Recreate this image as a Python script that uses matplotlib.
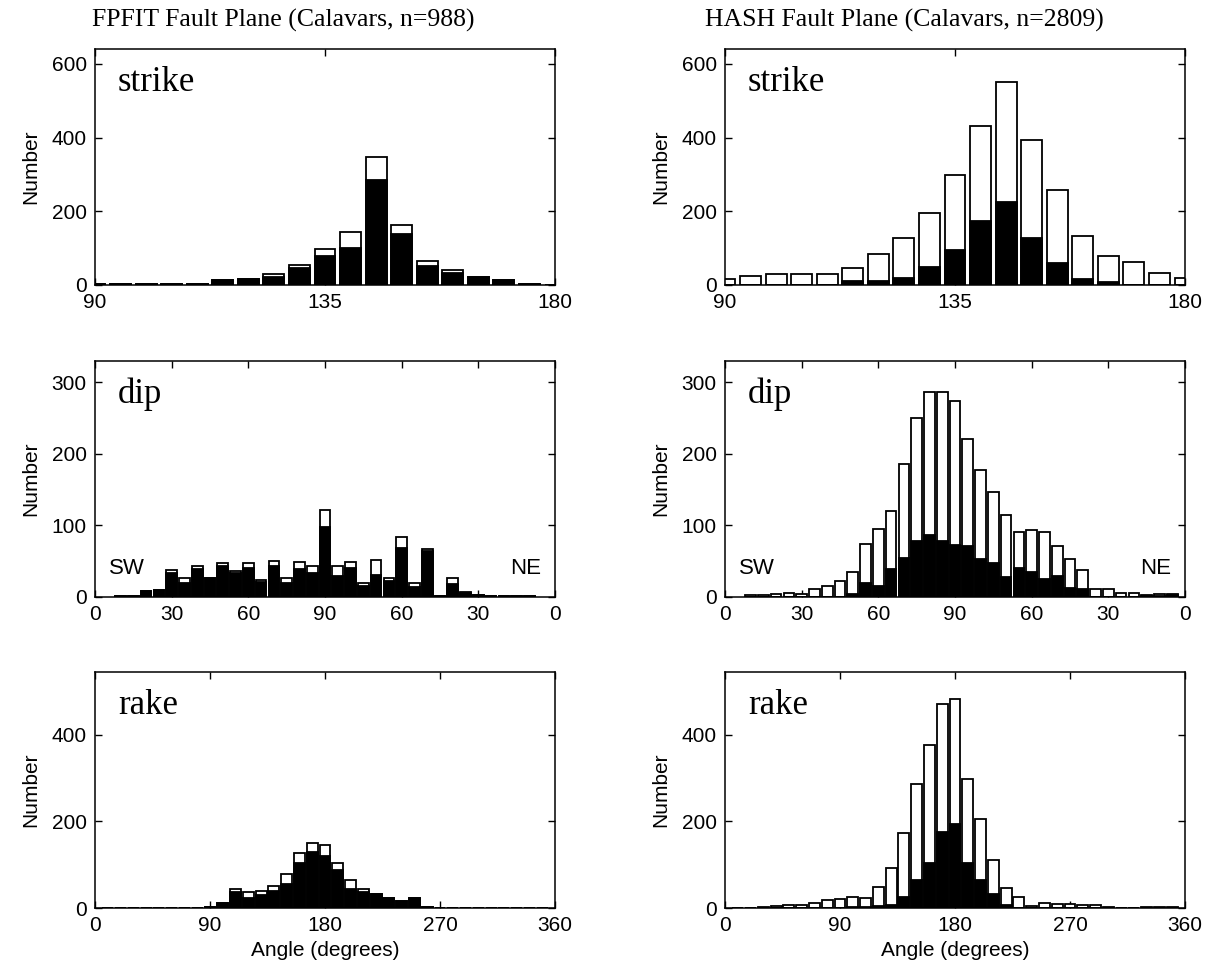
import numpy as np
import matplotlib
matplotlib.use('Agg')
import matplotlib.pyplot as plt

plt.rcParams['font.family'] = ['Liberation Sans', 'DejaVu Sans']

# strike, bins of 5 degrees
strike_centers = np.arange(90, 181, 5)
fp_strike_total = [2, 2, 3, 2, 2, 13, 15, 30, 54, 98, 143, 348, 164, 65, 40, 23, 13, 2, 1]
fp_strike_black = [2, 2, 3, 2, 2, 13, 15, 21, 45, 80, 101, 284, 137, 52, 32, 23, 13, 2, 1]
hs_strike_total = [15, 24, 29, 29, 29, 47, 83, 128, 194, 298, 430, 550, 393, 257, 133, 79, 63, 32, 19]
hs_strike_black = [0, 0, 0, 0, 0, 10, 10, 20, 50, 95, 173, 226, 127, 61, 16, 7, 0, 0, 0]

# dip, bins of 5 degrees (0-90 SW side, 90-0 NE side)
fp_dip_centers = np.arange(10, 171, 5)
fp_dip_total = [2, 2, 8, 10, 38, 27, 43, 26, 48, 36, 47, 24, 51, 27, 49, 44, 122,
                44, 49, 20, 52, 27, 84, 19, 67, 2, 27, 7, 3, 2, 2, 2, 2]
fp_dip_black = [2, 2, 8, 10, 34, 20, 39, 26, 44, 33, 40, 21, 43, 20, 39, 33, 98,
                30, 40, 15, 31, 22, 69, 14, 64, 2, 18, 5, 3, 2, 2, 2, 2]
hs_dip_centers = np.arange(10, 176, 5)
hs_dip_total = [3, 3, 4, 6, 4, 11, 15, 22, 35, 74, 95, 120, 186, 250, 286, 287, 274,
                221, 177, 147, 114, 91, 94, 91, 71, 53, 38, 11, 11, 5, 5, 3, 4, 4]
hs_dip_black = [0, 0, 0, 0, 0, 0, 0, 0, 4, 19, 16, 39, 55, 78, 86, 79, 73,
                72, 53, 47, 28, 40, 35, 25, 29, 12, 11, 0, 0, 0, 0, 2, 2, 3]
dip_ticks = [0, 30, 60, 90, 120, 150, 180]
dip_ticklabels = ['0', '30', '60', '90', '60', '30', '0']

# rake, bins of 10 degrees
rake_centers = np.arange(10, 351, 10)
fp_rake_total = [0, 0, 0, 0, 0, 1, 1, 0, 2, 12, 44, 37, 40, 50, 79, 126, 151, 146,
                 104, 65, 45, 33, 23, 16, 24, 2, 0, 0, 0, 0, 0, 0, 0, 0, 0]
fp_rake_black = [0, 0, 0, 0, 0, 1, 1, 0, 2, 12, 36, 23, 30, 39, 55, 105, 129, 119,
                 88, 43, 37, 33, 23, 16, 24, 2, 0, 0, 0, 0, 0, 0, 0, 0, 0]
hs_rake_total = [1, 1, 2, 4, 6, 8, 11, 18, 20, 25, 23, 48, 93, 174, 287, 377, 470, 483,
                 298, 206, 110, 47, 26, 5, 11, 9, 9, 6, 6, 3, 0, 1, 3, 3, 3]
hs_rake_black = [0, 0, 0, 0, 0, 0, 0, 0, 0, 2, 2, 5, 6, 26, 64, 103, 175, 193,
                 103, 64, 32, 7, 1, 0, 0, 0, 0, 0, 0, 0, 0, 0, 0, 0, 0]

titles = ['FPFIT Fault Plane (Calavars, n=988)', 'HASH Fault Plane (Calavars, n=2809)']

W, H = 1210, 973
fig = plt.figure(figsize=(W / 100, H / 100), dpi=100)

col_left = [95, 725]
row_top = [49, 361, 672]
ax_w, ax_h = 460, 236


def make_ax(col, row):
    return fig.add_axes([col_left[col] / W, 1 - (row_top[row] + ax_h) / H, ax_w / W, ax_h / H])


def draw_hist(ax, centers, total, black, width):
    ax.bar(centers, total, width=width, color='white', edgecolor='black', linewidth=1.3, zorder=2)
    ax.bar(centers, black, width=width, color='black', edgecolor='black', linewidth=1.3, zorder=3)


def style(ax, label, xlim, ylim, yticks):
    ax.set_xlim(*xlim)
    ax.set_ylim(*ylim)
    ax.set_yticks(yticks)
    ax.tick_params(direction='in', top=True, right=True, length=5, width=1, labelsize=15, pad=6)
    for s in ax.spines.values():
        s.set_linewidth(1.1)
    ax.set_ylabel('Number', fontsize=15, labelpad=8)
    ax.text(0.05, 0.86, label, transform=ax.transAxes, fontsize=25,
            family='Liberation Serif', va='center', ha='left')


for col in range(2):
    # strike
    ax = make_ax(col, 0)
    if col == 0:
        draw_hist(ax, strike_centers, fp_strike_total, fp_strike_black, 4.1)
    else:
        draw_hist(ax, strike_centers, hs_strike_total, hs_strike_black, 4.1)
    style(ax, 'strike', (90, 180), (0, 640), [0, 200, 400, 600])
    ax.set_xticks([90, 135, 180])

    # dip
    ax = make_ax(col, 1)
    if col == 0:
        draw_hist(ax, fp_dip_centers, fp_dip_total, fp_dip_black, 4.2)
    else:
        draw_hist(ax, hs_dip_centers, hs_dip_total, hs_dip_black, 4.2)
    style(ax, 'dip', (0, 180), (0, 330), [0, 100, 200, 300])
    ax.set_xticks(dip_ticks)
    ax.set_xticklabels(dip_ticklabels)
    ax.text(0.03, 0.12, 'SW', transform=ax.transAxes, fontsize=16, va='center', ha='left')
    ax.text(0.97, 0.12, 'NE', transform=ax.transAxes, fontsize=16, va='center', ha='right')

    # rake
    ax = make_ax(col, 2)
    if col == 0:
        draw_hist(ax, rake_centers, fp_rake_total, fp_rake_black, 8.5)
    else:
        draw_hist(ax, rake_centers, hs_rake_total, hs_rake_black, 8.5)
    style(ax, 'rake', (0, 360), (0, 545), [0, 200, 400])
    ax.set_xticks([0, 90, 180, 270, 360])
    ax.set_xlabel('Angle (degrees)', fontsize=15, labelpad=4)

fig.text(283 / W, 1 - 20 / H, titles[0], ha='center', va='center',
         fontsize=18.5, family='Liberation Serif')
fig.text(904 / W, 1 - 20 / H, titles[1], ha='center', va='center',
         fontsize=18.5, family='Liberation Serif')

fig.savefig('out.png', dpi=100)
